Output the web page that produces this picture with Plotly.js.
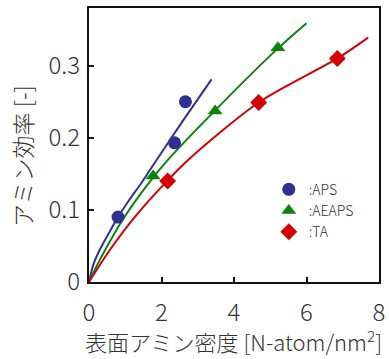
<!DOCTYPE html>
<html>
<head>
<meta charset="utf-8">
<script src="https://cdn.plot.ly/plotly-3.0.1.min.js"></script>
<style>html,body{margin:0;padding:0;background:#fff;}#chart{width:389px;height:359px;}</style>
</head>
<body>
<div id="chart"></div>
<script>
// Measured points
const apsX = [0.80, 2.36, 2.66];
const apsY = [0.090, 0.193, 0.250];
const aeapsX = [1.77, 3.48, 5.21];
const aeapsY = [0.147, 0.237, 0.325];
const taX = [2.17, 4.68, 6.85];
const taY = [0.140, 0.249, 0.310];
// Fitted curves
const apsLineX = [0, 0.12, 0.29, 0.55, 0.8, 1.1, 1.44, 1.81, 2.57, 3.38];
const apsLineY = [0, 0.024, 0.044, 0.068, 0.090, 0.113, 0.137, 0.165, 0.222, 0.281];
const aeapsLineX = [0, 0.2, 0.43, 0.95, 1.6, 2.17, 3.48, 5.21, 6.0];
const aeapsLineY = [0, 0.021, 0.043, 0.088, 0.134, 0.169, 0.238, 0.324, 0.359];
const taLineX = [0, 0.57, 1.26, 2.17, 2.75, 4.68, 6.85, 7.7];
const taLineY = [0, 0.044, 0.090, 0.141, 0.170, 0.249, 0.310, 0.339];
const names = [':APS', ':AEAPS', ':TA'];
const colors = ['#2e3192', '#0a850a', '#d40000'];
const symbols = ['circle', 'triangle-up', 'diamond'];
const xTicks = [0, 2, 4, 6, 8];
const yTicks = [0, 0.1, 0.2, 0.3];
const yTickText = ['0', '0.1', '0.2', '0.3'];
const xTitle = '表面アミン密度 [N-atom/nm<sup>2</sup>]';
const yTitle = 'アミン効率 [-]';

const ptsX = [apsX, aeapsX, taX];
const ptsY = [apsY, aeapsY, taY];
const lnX = [apsLineX, aeapsLineX, taLineX];
const lnY = [apsLineY, aeapsLineY, taLineY];

const FONT = '"Noto Sans CJK JP", "Noto Sans", sans-serif';
const TXT = '#333';
const traces = [];
for (let i = 0; i < 3; i++) {
  traces.push({x: lnX[i], y: lnY[i], mode: 'lines', line: {color: colors[i], width: 2, shape: 'spline', smoothing: 0.8}, showlegend: false, hoverinfo: 'skip'});
}
for (let i = 0; i < 3; i++) {
  traces.push({x: ptsX[i], y: ptsY[i], mode: 'markers', name: names[i],
    marker: {color: colors[i], symbol: symbols[i], size: 13}});
}

const layout = {
  width: 389, height: 359,
  margin: {l: 89, r: 10, t: 8, b: 77},
  paper_bgcolor: '#fff', plot_bgcolor: '#fff',
  font: {family: FONT, color: TXT, weight: 300},
  showlegend: true,
  legend: {x: 0.62, y: 0.395, xanchor: 'left', yanchor: 'top', bgcolor: 'rgba(0,0,0,0)',
    font: {size: 14, family: FONT, color: TXT, weight: 300}, itemwidth: 30},
  xaxis: {range: [0, 8], tickvals: xTicks, ticks: 'inside', ticklen: 5, tickwidth: 2, tickcolor: '#111',
    showline: true, mirror: true, linecolor: '#111', linewidth: 2, showgrid: false, zeroline: false,
    ticklabelstandoff: 8,
    tickfont: {size: 24, family: FONT, color: TXT, weight: 300}},
  yaxis: {range: [0, 0.38], tickvals: yTicks, ticktext: yTickText, ticks: 'inside', ticklen: 5, tickwidth: 2, tickcolor: '#111',
    showline: true, mirror: true, linecolor: '#111', linewidth: 2, showgrid: false, zeroline: false,
    ticklabelstandoff: 2,
    tickfont: {size: 24, family: FONT, color: TXT, weight: 300}},
  annotations: [
    {text: xTitle, xref: 'paper', yref: 'paper', x: 1.018, xanchor: 'right', y: -0.212, yanchor: 'middle',
      showarrow: false, font: {size: 22, family: FONT, color: TXT, weight: 300}},
    {text: yTitle, xref: 'paper', yref: 'paper', x: -0.231, xanchor: 'center', y: 0.46, yanchor: 'middle',
      textangle: -90, showarrow: false, font: {size: 23, family: FONT, color: TXT, weight: 300}}
  ]
};
Plotly.newPlot('chart', traces, layout, {displayModeBar: false, staticPlot: true});
</script>
</body>
</html>
